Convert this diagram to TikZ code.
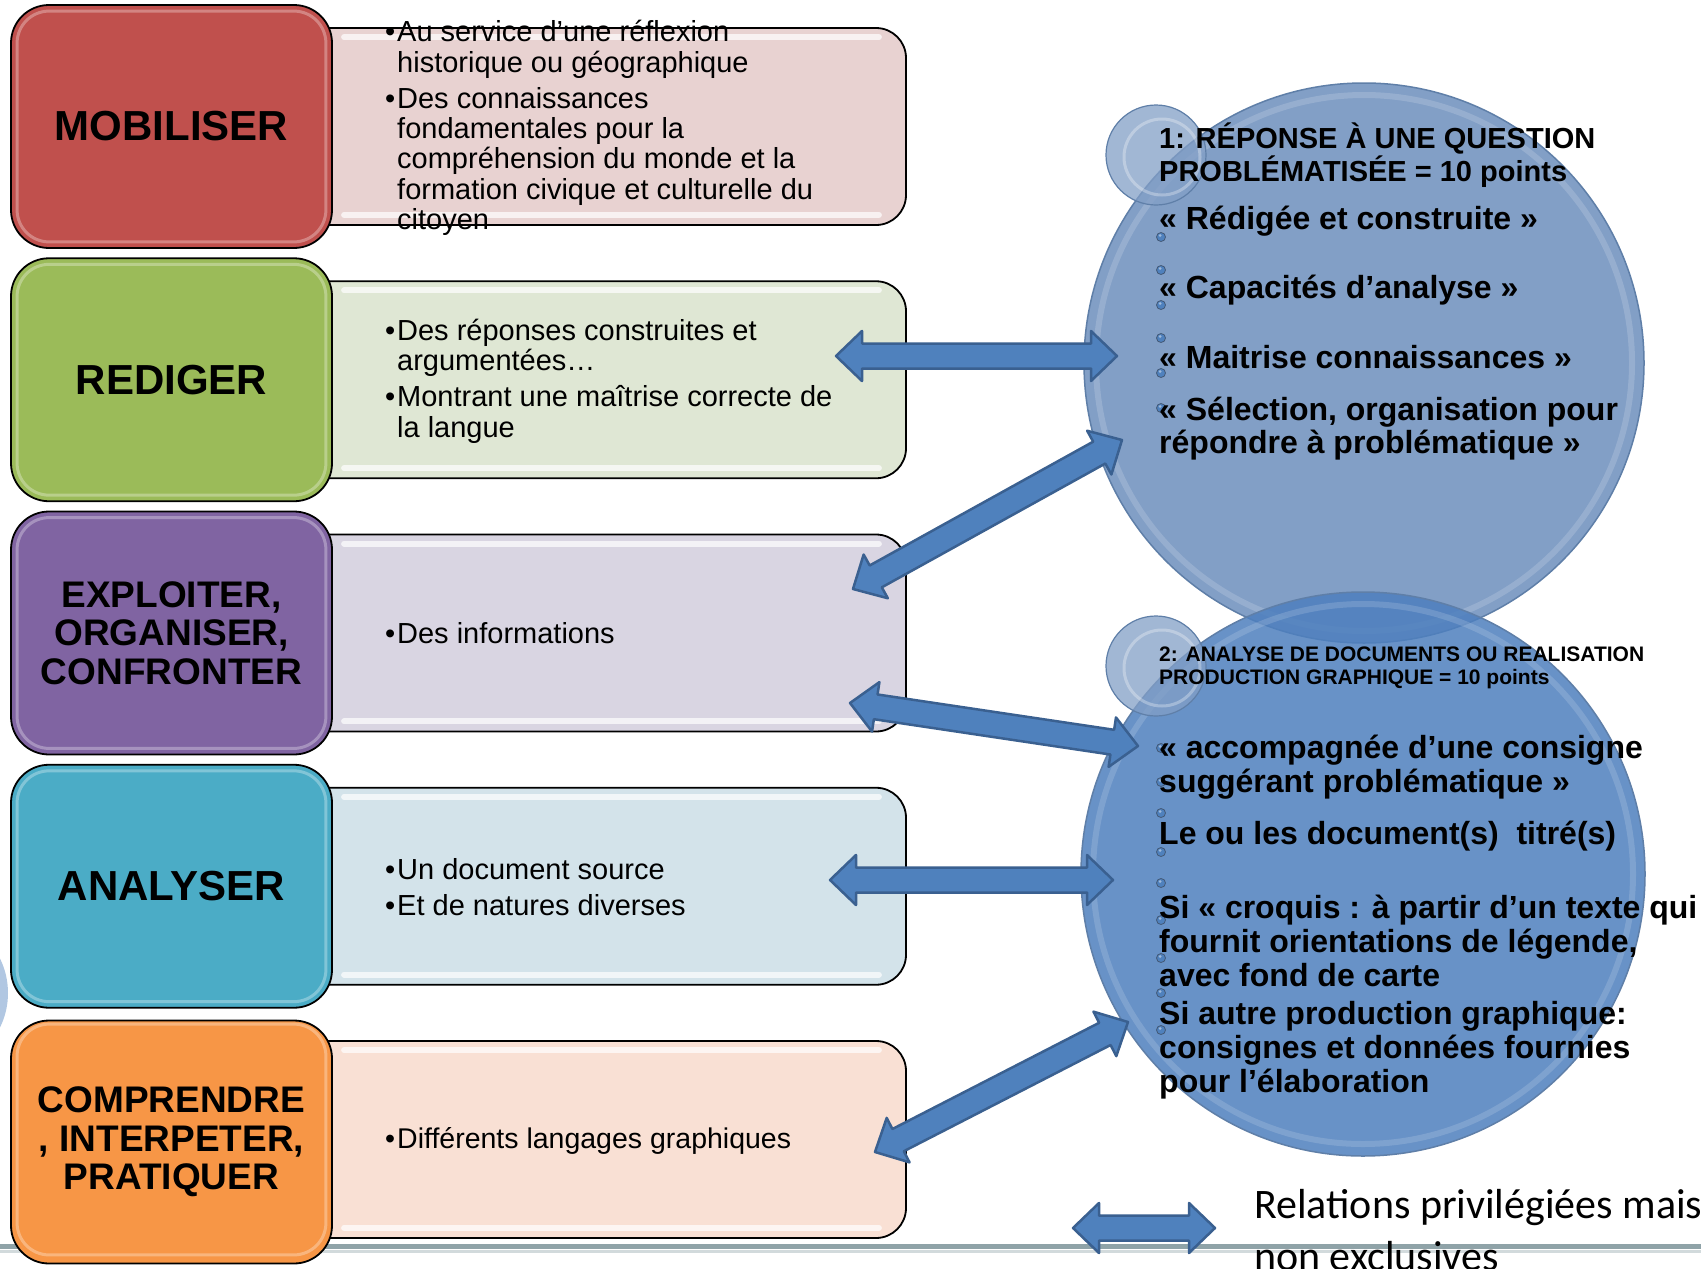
\documentclass[tikz,border=0pt]{standalone}
\usepackage{fontspec}
\setmainfont{Liberation Sans}
\newfontfamily\carlitofont{Carlito}
\usetikzlibrary{calc}
\definecolor{redA}{HTML}{C0504D}
\definecolor{redB}{HTML}{E8D2D1}
\definecolor{greenA}{HTML}{9BBB59}
\definecolor{greenB}{HTML}{DFE7D4}
\definecolor{purpA}{HTML}{8064A2}
\definecolor{purpB}{HTML}{D9D5E2}
\definecolor{cyanA}{HTML}{4BACC6}
\definecolor{cyanB}{HTML}{D3E3EA}
\definecolor{orangeA}{HTML}{F79646}
\definecolor{orangeB}{HTML}{F9E0D4}
\definecolor{arrowblue}{HTML}{4F81BD}
\definecolor{arrowdark}{HTML}{3A6090}
\definecolor{circA}{HTML}{829FC6}
\definecolor{circB}{HTML}{4E7FBE}
\definecolor{circEdge}{HTML}{5F7FA8}
\definecolor{linegray}{HTML}{8FA3A8}
\newcommand\bul{\llap{•\hspace{2pt}}}
\newcommand\blockarrow[2]{%
  \coordinate (ba1) at ($(#1)!26pt!(#2)$);
  \coordinate (ba2) at ($(#2)!26pt!(#1)$);
  \filldraw[arrowstyle] (#1) -- ($(ba1)!25pt!90:(#2)$) -- ($(ba1)!12.5pt!90:(#2)$)
    -- ($(ba2)!12.5pt!-90:(#1)$) -- ($(ba2)!25pt!-90:(#1)$) -- (#2)
    -- ($(ba2)!25pt!90:(#1)$) -- ($(ba2)!12.5pt!90:(#1)$)
    -- ($(ba1)!12.5pt!-90:(#2)$) -- ($(ba1)!25pt!-90:(#2)$) -- cycle;}
\begin{document}
\begin{tikzpicture}[x=1pt,y=-1pt,
  catbox/.style={draw=black, line width=1.8pt, rounded corners=38pt, minimum width=321pt,
    minimum height=243pt, inner sep=0pt, align=center},
  catone/.style={catbox, font=\bfseries\fontsize{42}{44}\selectfont},
  cattwo/.style={catbox, font=\bfseries\fontsize{37}{38.5}\selectfont},
  txtbox/.style={draw=black, line width=1.8pt, rounded corners=30pt, minimum width=606pt,
    minimum height=197pt, inner sep=0pt},
  bultext/.style={anchor=west, inner sep=0pt, align=left, font=\fontsize{29}{30.4}\selectfont},
  ctext/.style={anchor=west, inner sep=0pt, align=left, font=\bfseries\fontsize{32}{34}\selectfont},
  arrowstyle/.style={fill=arrowblue, draw=arrowdark, line width=2.5pt, line join=round},
  gloss/.style={white, opacity=.7, line width=6pt, line cap=round},
  innerhl/.style={white, opacity=.3, line width=3pt, rounded corners=32pt},
  bubble/.style={circle, fill=circA, fill opacity=.75, draw=circEdge, line width=1.2pt, minimum size=100pt, inner sep=0pt},
  dotb/.style={fill=arrowblue, draw=circEdge!70!black, line width=.8pt}
]
\useasboundingbox (0,0) rectangle (1701,1269);
\clip (0,0) rectangle (1701,1269);
\fill[white] (0,0) rectangle (1701,1269);

% bottom line
\draw[line width=3pt, color=linegray!40] (0,1251) -- (1701,1251);
\draw[line width=5pt, color=linegray] (0,1246) -- (1701,1246);

% left fragment
\fill[color=arrowblue!55!white, opacity=.8] (-70,993) circle (78pt);

% rows
\node[txtbox, fill=redB] (tb1) at (603,126.5) {};
\draw[gloss] ($(tb1.north west)+(45,10)$) -- ($(tb1.north east)+(-28,10)$);
\draw[gloss] ($(tb1.south west)+(45,-11)$) -- ($(tb1.south east)+(-28,-11)$);
\node[catone, fill=redA] (cb1) at (171.5,126.5) {MOBILISER};
\draw[innerhl] ($(cb1.north west)+(7,7)$) rectangle ($(cb1.south east)+(-7,-7)$);

\node[txtbox, fill=greenB] (tb2) at (603,379.75) {};
\draw[gloss] ($(tb2.north west)+(45,10)$) -- ($(tb2.north east)+(-28,10)$);
\draw[gloss] ($(tb2.south west)+(45,-11)$) -- ($(tb2.south east)+(-28,-11)$);
\node[catone, fill=greenA] (cb2) at (171.5,379.75) {REDIGER};
\draw[innerhl] ($(cb2.north west)+(7,7)$) rectangle ($(cb2.south east)+(-7,-7)$);

\node[txtbox, fill=purpB] (tb3) at (603,633) {};
\draw[gloss] ($(tb3.north west)+(45,10)$) -- ($(tb3.north east)+(-28,10)$);
\draw[gloss] ($(tb3.south west)+(45,-11)$) -- ($(tb3.south east)+(-28,-11)$);
\node[cattwo, fill=purpA] (cb3) at (171.5,633) {EXPLOITER,\\ORGANISER,\\CONFRONTER};
\draw[innerhl] ($(cb3.north west)+(7,7)$) rectangle ($(cb3.south east)+(-7,-7)$);

\node[txtbox, fill=cyanB] (tb4) at (603,886.25) {};
\draw[gloss] ($(tb4.north west)+(45,10)$) -- ($(tb4.north east)+(-28,10)$);
\draw[gloss] ($(tb4.south west)+(45,-11)$) -- ($(tb4.south east)+(-28,-11)$);
\node[catone, fill=cyanA] (cb4) at (171.5,886.25) {ANALYSER};
\draw[innerhl] ($(cb4.north west)+(7,7)$) rectangle ($(cb4.south east)+(-7,-7)$);

\node[txtbox, fill=orangeB] (tb5) at (603,1139.5) {};
\draw[gloss] ($(tb5.north west)+(45,10)$) -- ($(tb5.north east)+(-28,10)$);
\draw[gloss] ($(tb5.south west)+(45,-11)$) -- ($(tb5.south east)+(-28,-11)$);
\node[cattwo, fill=orangeA] (cb5) at (171.5,1142) {COMPRENDRE\\, INTERPETER,\\PRATIQUER};
\draw[innerhl] ($(cb5.north west)+(7,4.5)$) rectangle ($(cb5.south east)+(-7,-9.5)$);

% bullet texts
\node[bultext] (tx1) at (397,128) {\bul Au service d’une réflexion\\historique ou géographique\\[5.5pt]\bul Des connaissances\\fondamentales pour la\\compréhension du monde et la\\formation civique et culturelle du\\citoyen};
\node[bultext] (tx2) at (397,381) {\bul Des réponses construites et\\argumentées…\\[5.5pt]\bul Montrant une maîtrise correcte de\\la langue};
\node[bultext] (tx3) at (397,633) {\bul Des informations};
\node[bultext] (tx4) at (397,887) {\bul Un document source\\[5.5pt]\bul Et de natures diverses};
\node[bultext, font=\fontsize{28.5}{30.4}\selectfont] (tx5) at (397,1141) {\bul Différents langages graphiques};

% circles
\node[circle, fill=circA, draw=circEdge, line width=1.5pt, minimum size=560pt, inner sep=0pt] (c1) at (1364,363) {};
\draw[white, opacity=.16, line width=6pt] (c1.center) circle (268pt);
\node[bubble] (b1) at (1156,155) {};
\draw[white, opacity=.3, line width=3pt] (1162,157) circle (38pt);
\node[circle, fill=circB, fill opacity=.85, draw=circEdge, line width=1.5pt, minimum size=564pt, inner sep=0pt] (c2) at (1363,874) {};
\draw[white, opacity=.15, line width=6pt] (c2.center) circle (270pt);
\node[bubble] (b2) at (1156,666) {};
\draw[white, opacity=.3, line width=3pt] (1162,668) circle (38pt);

% bullet dots
\foreach \yy in {237,270,305,338,373,408,748,782,813,852,883,920,958,993,1030}{
  \filldraw[dotb] (1161,\yy) circle (4.5pt);
  \fill[white, opacity=.45] (1160,\yy-1.5) circle (1.5pt);
}

% arrows
\coordinate (a1s) at (836,356); \coordinate (a1e) at (1117,356);
\coordinate (a2s) at (853,589); \coordinate (a2e) at (1122,440);
\coordinate (a3s) at (850,703); \coordinate (a3e) at (1138,746);
\coordinate (a4s) at (830,880); \coordinate (a4e) at (1113,880);
\coordinate (a5s) at (875,1152); \coordinate (a5e) at (1128,1022);
\coordinate (lgs) at (1073,1228); \coordinate (lge) at (1215,1228);
\blockarrow{a1s}{a1e}
\blockarrow{a2s}{a2e}
\blockarrow{a3s}{a3e}
\blockarrow{a4s}{a4e}
\blockarrow{a5s}{a5e}
\blockarrow{lgs}{lge}

% circle texts
\node[anchor=west, inner sep=0pt, align=left, font=\bfseries\fontsize{29}{30}\selectfont] (t1) at (1159,155) {1: RÉPONSE À UNE QUESTION\\PROBLÉMATISÉE = 10 points};
\node[ctext] (t2) at (1159,221) {« Rédigée et construite »};
\node[ctext] (t3) at (1159,290) {« Capacités d’analyse »};
\node[ctext] (t4) at (1159,357) {« Maitrise connaissances »};
\node[ctext, font=\bfseries\fontsize{32}{33}\selectfont] (t5) at (1159,428.5) {« Sélection, organisation pour\\répondre à problématique »};

\node[anchor=west, inner sep=0pt, align=left, font=\bfseries\fontsize{21}{23}\selectfont] (u1) at (1159,667.5) {2: ANALYSE DE DOCUMENTS OU REALISATION\\PRODUCTION GRAPHIQUE = 10 points};
\node[ctext] (u2) at (1159,767) {« accompagnée d’une consigne\\suggérant problématique »};
\node[ctext] (u3) at (1159,836) {Le ou les document(s)\ \ titré(s)};
\node[ctext] (u4) at (1159,941) {Si « croquis : à partir d’un texte qui\\fournit orientations de légende,\\avec fond de carte};
\node[ctext] (u5) at (1159,1050) {Si autre production graphique:\\consignes et données fournies\\pour l’élaboration};

% legend
\node[anchor=west, inner sep=0pt, align=left, font=\carlitofont\fontsize{42}{52}\selectfont] (legend) at (1254,1230) {Relations privilégiées mais\\non exclusives};
\end{tikzpicture}
\end{document}
